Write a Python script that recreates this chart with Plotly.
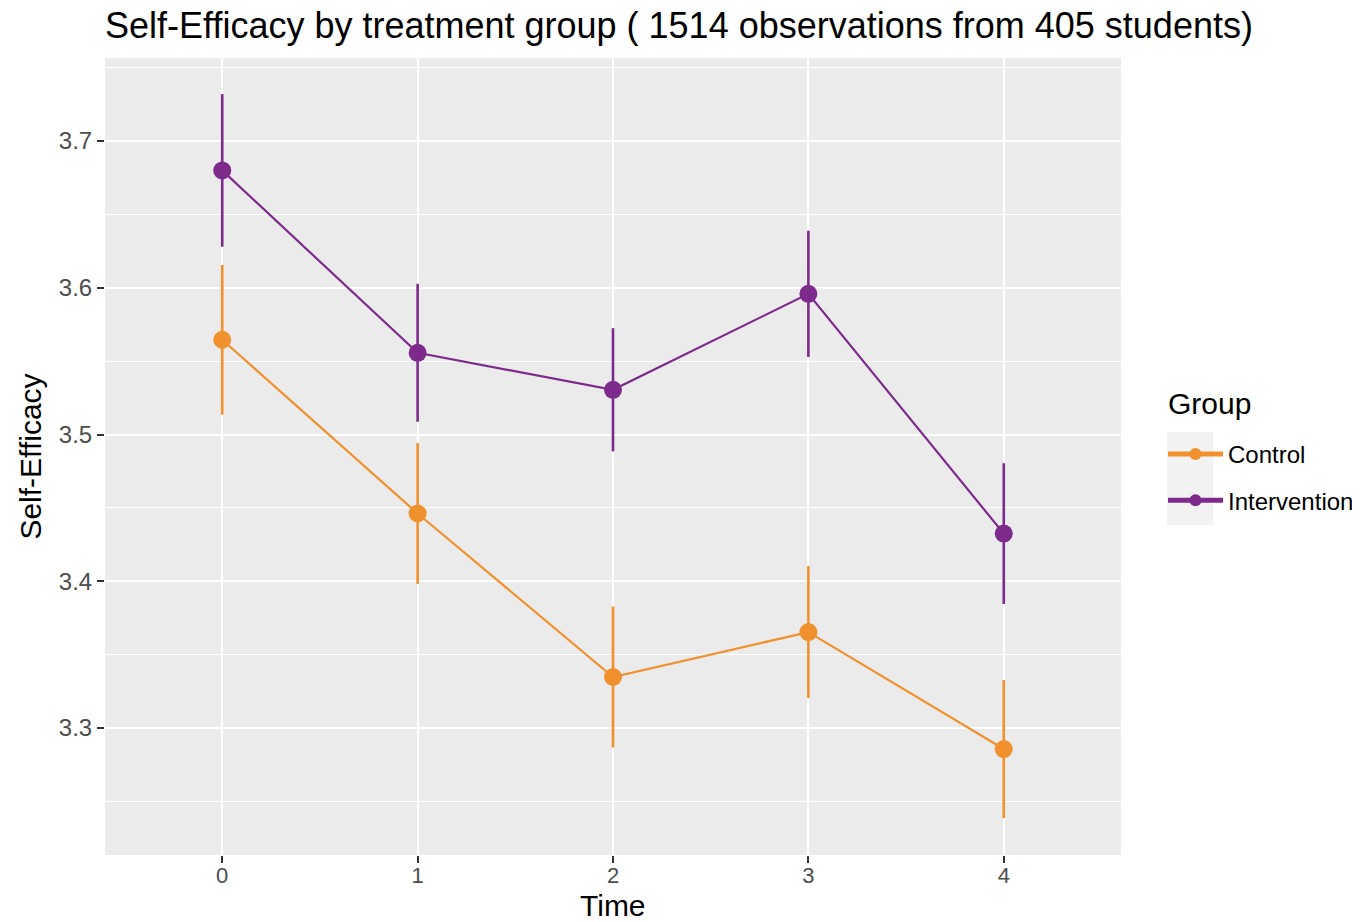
import plotly.graph_objects as go

time_points = [0, 1, 2, 3, 4]
tick_labels = ["0", "1", "2", "3", "4"]
y_ticks = [3.3, 3.4, 3.5, 3.6, 3.7]
y_tick_labels = ["3.3", "3.4", "3.5", "3.6", "3.7"]
y_minor = [3.25, 3.35, 3.45, 3.55, 3.65, 3.75]
control_mean = [3.5646, 3.4462, 3.3348, 3.3654, 3.2857]
control_err = [0.051, 0.048, 0.048, 0.045, 0.047]
intervention_mean = [3.680, 3.5557, 3.5305, 3.5959, 3.4325]
intervention_err = [0.052, 0.047, 0.042, 0.043, 0.048]

ORANGE = "#F0912E"
PURPLE = "#7E2A8C"
FONT = "Liberation Sans, Arial, sans-serif"

# page has an 8px body margin: figure coords = screen coords - 8
W, H = 1352, 914
L, R, T, B = 97, 239, 50, 67
PW, PH = W - L - R, H - T - B


def px(sx):  # screen x -> paper x
    return (sx - 8 - L) / PW


def py(sy):  # screen y -> paper y
    return (H - B - (sy - 8)) / PH


fig = go.Figure()
for i, (name, mean, err, col) in enumerate([("Control", control_mean, control_err, ORANGE),
                                            ("Intervention", intervention_mean, intervention_err, PURPLE)]):
    fig.add_trace(go.Scatter(
        x=time_points, y=mean, name=name, mode="lines+markers", legendgroup=f"g{i}",
        line=dict(color=col, width=2.2),
        marker=dict(color=col, size=18),
        error_y=dict(type="data", array=err, visible=True, color=col, thickness=2.6, width=0),
    ))

fig.add_shape(type="rect", xref="paper", yref="paper",
              x0=px(1167), x1=px(1213), y0=py(432), y1=py(525),
              fillcolor="#F2F2F2", line=dict(width=0), layer="below")

fig.add_annotation(text="Group", xref="paper", yref="paper", x=px(1166), y=py(403),
                   xanchor="left", yanchor="middle", showarrow=False,
                   font=dict(size=30, color="#000000", family=FONT))

fig.add_annotation(text="Time", xref="paper", yref="paper", x=px(613), y=py(906),
                   xanchor="center", yanchor="middle", showarrow=False,
                   font=dict(size=30, color="#000000", family=FONT))

fig.update_layout(
    width=W, height=H,
    paper_bgcolor="white", plot_bgcolor="#EBEBEB",
    margin=dict(l=L, r=R, t=T, b=B, autoexpand=False),
    font=dict(family=FONT, color="#1A1A1A"),
    title=dict(text="Self-Efficacy by treatment group ( 1514 observations from 405 students)",
               x=(105 - 8) / W, xanchor="left", xref="container",
               y=1 - (25 - 8) / H, yanchor="middle", yref="container",
               font=dict(size=36, color="#000000", family=FONT)),
    xaxis=dict(range=[-0.6, 4.6], tickvals=time_points, ticktext=tick_labels,
               showgrid=True, gridcolor="white", gridwidth=2.2, zeroline=False,
               automargin=False, ticklabelstandoff=-6,
               ticks="outside", ticklen=7, tickwidth=2, tickcolor="#333333",
               tickfont=dict(size=22, color="#4D4D4D")),
    yaxis=dict(range=[3.2135, 3.7566], tickvals=y_ticks, ticktext=y_tick_labels,
               showgrid=True, gridcolor="white", gridwidth=2.2, zeroline=False,
               automargin=False,
               minor=dict(tickvals=y_minor, showgrid=True, gridcolor="white", gridwidth=1.1, ticks=""),
               ticks="outside", ticklen=7, tickwidth=2, tickcolor="#333333",
               tickfont=dict(size=24, color="#4D4D4D"),
               title=dict(text="Self-Efficacy", font=dict(size=30, color="#000000"), standoff=8)),
    legend=dict(x=px(1163), xanchor="left", y=py(432), yanchor="top",
                font=dict(size=24, color="#000000"), bgcolor="rgba(0,0,0,0)",
                itemwidth=55, tracegroupgap=12, itemsizing="constant"),
)

fig.write_html("out.html")
